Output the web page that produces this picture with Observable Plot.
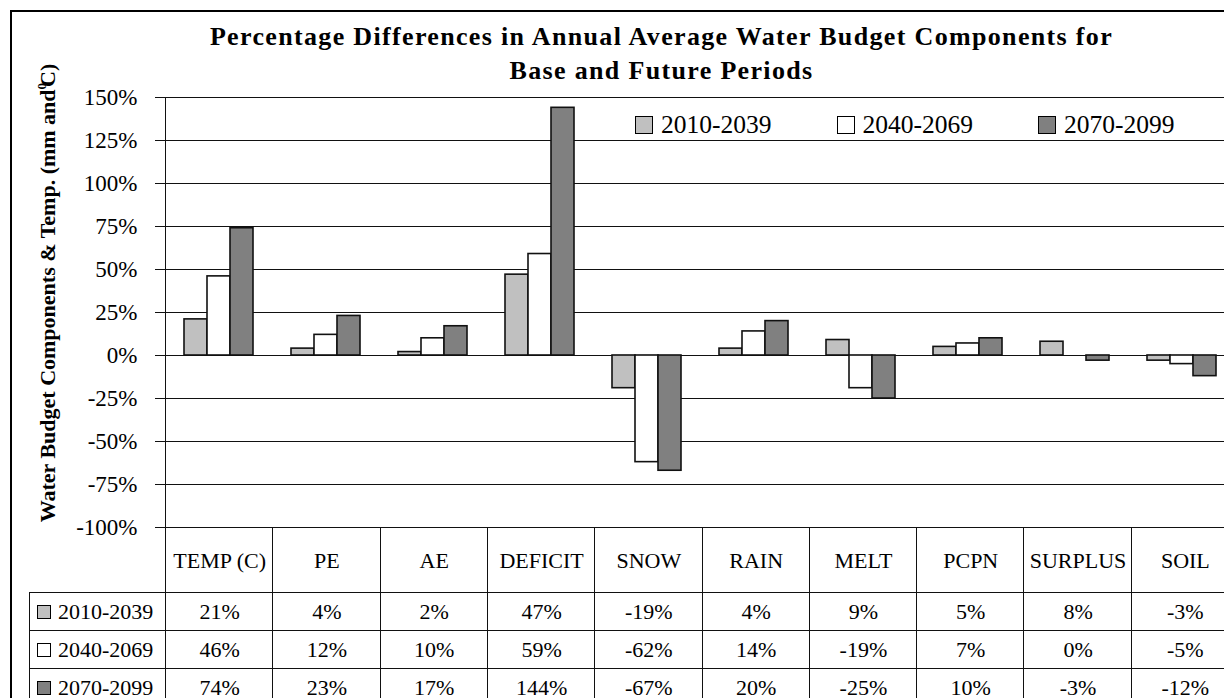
<!DOCTYPE html>
<html>
<head>
<meta charset="utf-8">
<script src="https://cdn.jsdelivr.net/npm/d3@7"></script>
<script src="https://cdn.jsdelivr.net/npm/@observablehq/plot@0.6"></script>
<style>
  html, body { margin: 0; padding: 0; background: #fff; overflow: hidden; width: 1224px; height: 698px; }
  #root { position: relative; width: 1224px; height: 698px; overflow: hidden; background: #fff;
          font-family: "Liberation Serif", "Times New Roman", serif; color: #000; }
  .frame { position: absolute; left: 10px; top: 10px; width: 1400px; height: 900px; border: 2px solid #000; box-sizing: border-box; }
  .layer { position: absolute; left: 0; top: 0; }
  .title { position: absolute; left: 0; width: 1323px; top: 20px; text-align: center; font-weight: bold;
           font-size: 26px; line-height: 34px; white-space: nowrap; }
  .ylabel { position: absolute; left: 47px; top: 293px; transform: translate(-50%, -50%) rotate(-90deg);
            font-weight: bold; font-size: 22px; white-space: nowrap; line-height: 1; }
  .ylabel sup { font-size: 13px; vertical-align: 9px; margin-right: -4px; }
  .legend { position: absolute; left: 635px; top: 108px; display: flex; gap: 65px; font-size: 25.5px; line-height: 34px; }
  .legend .item { display: flex; align-items: center; gap: 8px; }
  .sw { width: 18px; height: 18px; box-sizing: border-box; border: 1.6px solid #000; display: inline-block; flex: none; }
  .cell { position: absolute; box-sizing: border-box; display: flex; align-items: center; justify-content: center;
          font-size: 22px; white-space: nowrap; }
  .rowlab { justify-content: flex-start; padding-left: 7px; gap: 7px; }
  .rowlab .sw { width: 14px; height: 14px; border-width: 1.4px; }
</style>
</head>
<body>
<div id="root"></div>
<script>
// ---------------- data ----------------
const titleLines = ["Percentage Differences in Annual Average Water Budget Components for", "Base and Future Periods"];
const yLabel = "Water Budget Components & Temp. (mm and";
const categories = ["TEMP (C)", "PE", "AE", "DEFICIT", "SNOW", "RAIN", "MELT", "PCPN", "SURPLUS", "SOIL"];
const series = ["2010-2039", "2040-2069", "2070-2099"];
const seriesFills = ["#c0c0c0", "#ffffff", "#808080"];
const values2010 = [21, 4, 2, 47, -19, 4, 9, 5, 8, -3];
const values2040 = [46, 12, 10, 59, -62, 14, -19, 7, 0, -5];
const values2070 = [74, 23, 17, 144, -67, 20, -25, 10, -3, -12];
const yTicks = [-100, -75, -50, -25, 0, 25, 50, 75, 100, 125, 150];
const yDomain = [-100, 150];

const seriesValues = [values2010, values2040, values2070];
const rows = [];
categories.forEach((c, i) => series.forEach((s, j) => rows.push({cat: c, series: s, value: seriesValues[j][i]})));
const pct = d => `${d}%`;

// ---------------- layout ----------------
const W = 1260, H = 540;
const frameMargins = {marginLeft: 165, marginRight: W - 1238, marginTop: 97, marginBottom: H - 527};
const root = document.getElementById("root");

const frame = document.createElement("div"); frame.className = "frame"; root.appendChild(frame);

// background layer: grid, axis, left line
const base = Plot.plot({
  width: W, height: H, ...frameMargins,
  style: {background: "transparent", maxWidth: "none", overflow: "visible",
          fontFamily: '"Liberation Serif", "Times New Roman", serif', fontSize: "23px", color: "#000"},
  x: {domain: categories, padding: 0, axis: null},
  y: {domain: yDomain},
  marks: [
    Plot.ruleY(yTicks, {stroke: "#111", strokeWidth: 1}),
    Plot.axisY(yTicks, {tickSize: 10, tickPadding: 18, tickFormat: pct, label: null, stroke: "#111", fontSize: 23}),
    Plot.frame({anchor: "left", stroke: "#111"})
  ]
});
base.classList.add("layer");
root.appendChild(base);

// bars layer (faceted grouped bars)
const bars = Plot.plot({
  width: W, height: H, ...frameMargins,
  style: {background: "transparent", maxWidth: "none", overflow: "visible"},
  fx: {domain: categories, paddingInner: 0.35, paddingOuter: 0.175, align: 0.45, axis: null, label: null},
  x: {domain: series, padding: 0, axis: null},
  y: {domain: yDomain, axis: null},
  color: {domain: series, range: seriesFills},
  marks: [
    Plot.barY(rows, {fx: "cat", x: "series", y: "value", fill: "series", stroke: "#111", strokeWidth: 1.6})
  ]
});
bars.classList.add("layer");
root.appendChild(bars);

// title
const title = document.createElement("div");
title.className = "title";
const cv = document.createElement("canvas").getContext("2d");
cv.font = 'bold 26px "Liberation Serif"';
const w1 = cv.measureText(titleLines[0]).width;
const ls = (907 - w1) / titleLines[0].length;
title.style.letterSpacing = ls + "px";
title.innerHTML = titleLines.map(t => `<div>${t}</div>`).join("");
root.appendChild(title);

// y label
const yl = document.createElement("div");
yl.className = "ylabel";
yl.innerHTML = `${yLabel}<sup>0</sup>C)`;
root.appendChild(yl);

// legend
const leg = document.createElement("div");
leg.className = "legend";
leg.innerHTML = series.map((s, j) => `<div class="item"><span class="sw" style="background:${seriesFills[j]}"></span><span>${s}</span></div>`).join("");
root.appendChild(leg);

// data table under the plot, aligned to the plot's x and y scales
const xsDesc = base.scale("x"), ys = base.scale("y");
const xb = d3.scaleBand().domain(xsDesc.domain).range(xsDesc.range).padding(0);
const bw = xb.bandwidth();
const top0 = ys.apply(yDomain[0]);
const headerH = 65, rowH = 38, labLeft = 29;
function cell(x, y, w, h, html, borders, cls) {
  const d = document.createElement("div");
  d.className = "cell" + (cls ? " " + cls : "");
  Object.assign(d.style, {left: x + "px", top: y + "px", width: w + "px", height: h + "px"});
  for (const b of borders) d.style["border" + b] = "1px solid #111";
  d.innerHTML = html;
  root.appendChild(d);
}
categories.forEach(c => cell(xb(c), top0, bw + 1, headerH + 1, c, ["Left", "Top"]));
series.forEach((s, j) => {
  const y = top0 + headerH + j * rowH;
  const x0 = xb(categories[0]);
  cell(labLeft, y, x0 - labLeft + 1, rowH + 1,
       `<span class="sw" style="background:${seriesFills[j]}"></span><span>${s}</span>`, ["Left", "Top", "Bottom"], "rowlab");
  categories.forEach((c, i) => cell(xb(c), y, bw + 1, rowH + 1, pct(seriesValues[j][i]), ["Left", "Top", "Bottom"]));
});
</script>
</body>
</html>
